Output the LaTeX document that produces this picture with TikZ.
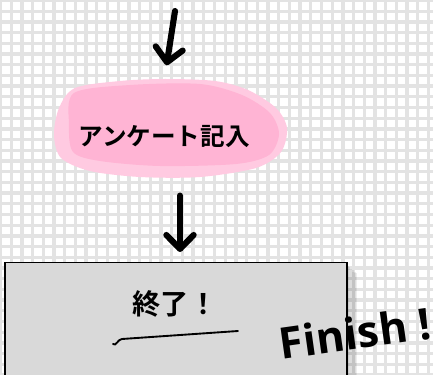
\documentclass[tikz,border=0pt]{standalone}
\usepackage{fontspec}
\newfontfamily\jpfont{Noto Sans CJK JP Bold}
\newfontfamily\finfont{Open Sans}
\usetikzlibrary{arrows.meta}
\definecolor{gridgray}{HTML}{E3E3E3}
\definecolor{blobpink}{HTML}{FFB4D4}
\definecolor{blobedge}{HTML}{FFCAE1}
\definecolor{boxgray}{HTML}{D9D9D9}
\begin{document}
\begin{tikzpicture}[x=0.03cm,y=-0.03cm]
			\tikzstyle{bigarrow}=[line width=5.2pt,line cap=round,line join=round,
				-{Straight Barb[length=0.42cm,width=0.82cm,line cap=round,line join=round]}]
			\tikzstyle{label}=[font=\jpfont\fontsize{21}{25}\selectfont]
			\useasboundingbox (0,0) rectangle (433,374);
			\clip (0,0) rectangle (433,374);
			% grid paper
			\fill[white] (0,0) rectangle (433,374);
			\foreach \i in {0,...,41}
			{
				\draw[gridgray,line width=2.8pt] ({0.5+10.7*\i},0) -- ({0.5+10.7*\i},374);
				\draw[gridgray,line width=2.8pt] (0,{0.5+10.7*\i}) -- (433,{0.5+10.7*\i});
			}
			% pink blob
			\fill[blobedge] plot[smooth cycle] coordinates {(75,88) (120,81) (165,79) (215,81) (248,90) (276,108) (287,128) (281,152) (256,168) (200,177) (140,177) (90,171) (61,158) (54,135) (59,108)};
			\fill[blobpink] plot[smooth cycle] coordinates {(74,93) (130,85) (200,84) (242,95) (270,113) (279,134) (269,155) (236,164) (160,166) (100,161) (73,152) (69,125)};
			\node[label,minimum height=3.3cm,inner sep=0pt] (survey) at (164,137) {アンケート記入};
			% end box
			\foreach \s in {1,...,6}
				\fill[black,opacity=0.07] ({347-6+\s*2.2},{264+\s*1.5}) rectangle ({347+\s*1.7},420);
			\node[draw=black,fill=boxgray,line width=1.2pt,minimum width=10.26cm,minimum height=4.8cm,anchor=north] (done) at (176,262) {};
			\node[label,font=\jpfont\fontsize{24}{28}\selectfont] (donetext) at (175,304) {終了！};
			\draw[line width=1.6pt,line cap=round] (113,344) to[out=-45,in=180] (122,339) -- (238,331);
			\node[font=\finfont\bfseries\fontsize{37}{40}\selectfont,rotate=8] (finish) at (355,333) {Finish !};
			% arrows
			\coordinate (start) at (175,11);
			\draw[bigarrow,shorten >=0.5cm] (start) -- (survey.north);
			\draw[bigarrow,shorten <=0.1cm,shorten >=0.3cm] (survey.south -| 180,0) -- (done.north -| 180,0);
\end{tikzpicture}
\end{document}
